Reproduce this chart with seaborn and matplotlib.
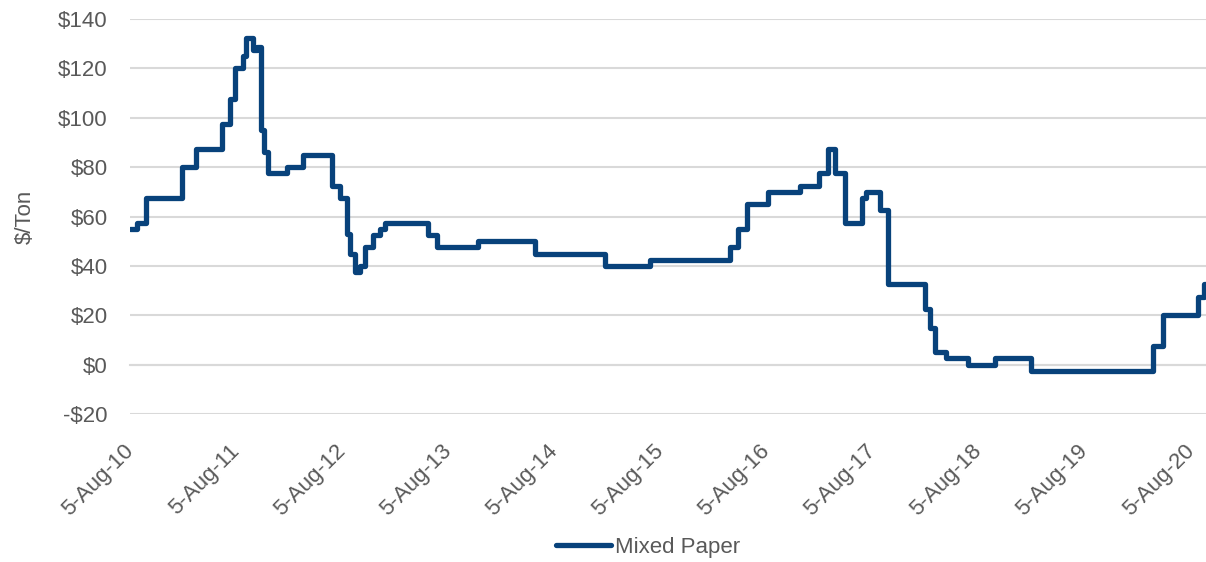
import seaborn as sns
import matplotlib.pyplot as plt
import pandas as pd

# step change dates and the price level ($/ton) from each date on
dates = ['2010-08-05', '2010-08-28', '2010-09-29', '2011-01-30', '2011-03-20',
         '2011-06-17', '2011-07-15', '2011-08-01', '2011-08-30', '2011-09-08',
         '2011-10-03', '2011-10-15', '2011-10-31', '2011-11-10', '2011-11-24',
         '2012-01-26', '2012-03-24', '2012-06-29', '2012-07-28', '2012-08-20',
         '2012-09-01', '2012-09-18', '2012-10-05', '2012-10-22', '2012-11-20',
         '2012-12-13', '2012-12-30', '2013-05-28', '2013-06-26', '2013-11-16',
         '2014-05-30', '2015-01-26', '2015-06-30', '2016-03-31', '2016-04-29',
         '2016-05-31', '2016-08-09', '2016-11-28', '2017-01-31', '2017-03-05',
         '2017-03-28', '2017-05-01', '2017-06-28', '2017-07-12', '2017-08-30',
         '2017-09-27', '2018-02-01', '2018-02-20', '2018-03-07', '2018-04-16',
         '2018-06-30', '2018-09-30', '2019-02-03', '2020-03-28', '2020-05-01',
         '2020-08-30', '2020-09-20', '2020-09-26']
prices = [55, 57.5, 67.5, 80, 87.5,
          97.5, 107.5, 120, 125, 132.5,
          127.5, 128.5, 95, 86, 77.5,
          80, 85, 72.5, 67.5, 53,
          45, 37.5, 40, 47.5, 52.5,
          55, 57.5, 52.5, 47.5, 50,
          45, 40, 42.5, 47.5, 55,
          65, 70, 72.5, 77.5, 87.5,
          77.5, 57.5, 67.5, 70, 62.5,
          32.5, 22.5, 15, 5, 2.5,
          0, 2.5, -2.5, 7.5, 20,
          27.5, 32.5, 32.5]

tick_dates = ['2010-08-05', '2011-08-05', '2012-08-05', '2013-08-05', '2014-08-05',
              '2015-08-05', '2016-08-05', '2017-08-05', '2018-08-05', '2019-08-05',
              '2020-08-05']
tick_labels = ['5-Aug-10', '5-Aug-11', '5-Aug-12', '5-Aug-13', '5-Aug-14',
               '5-Aug-15', '5-Aug-16', '5-Aug-17', '5-Aug-18', '5-Aug-19',
               '5-Aug-20']
y_ticks = [-20, 0, 20, 40, 60, 80, 100, 120, 140]

df = pd.DataFrame({'date': pd.to_datetime(dates), 'price': prices})

sns.set_style('white')
plt.rcParams['font.family'] = ['Liberation Sans', 'DejaVu Sans']
GREY = '#595959'
GRID = '#d9d9d9'

fig = plt.figure(figsize=(12.06, 5.62), dpi=100)
ax = fig.add_axes([0.1078, 0.2633, 0.8922, 0.7029])

sns.lineplot(data=df, x='date', y='price', ax=ax, color='#08427B', linewidth=3.8,
             drawstyle='steps-post', label='Mixed Paper', solid_joinstyle='round',
             solid_capstyle='round')

ax.set_ylim(-20, 140)
ax.set_yticks(y_ticks)
ax.set_yticklabels([f'-${abs(v)}' if v < 0 else f'${v}' for v in y_ticks])
ax.set_xlim(pd.Timestamp('2010-08-05'), pd.Timestamp('2020-09-26'))
ax.set_xticks(pd.to_datetime(tick_dates))
ax.set_xticklabels(tick_labels)

ax.grid(axis='y', color=GRID, linewidth=1.5)
ax.set_axisbelow(True)
for s in ['top', 'right', 'left']:
    ax.spines[s].set_visible(False)
ax.spines['bottom'].set_position(('data', 0))
ax.spines['bottom'].set_color(GRID)
ax.spines['bottom'].set_linewidth(1.5)
ax.spines['bottom'].set_zorder(0.5)

ax.tick_params(axis='x', direction='out', length=5, width=1.5, color=GRID,
               labelsize=16, labelcolor=GREY, pad=55, labelrotation=45)
ax.tick_params(axis='y', length=0, labelsize=16, labelcolor=GREY, pad=16)
plt.setp(ax.get_xticklabels(), ha='right', va='center', rotation_mode='anchor')

ax.set_xlabel('')
ax.set_ylabel('$/Ton', fontsize=16, color=GREY, labelpad=16)

ax.legend(loc='lower center', bbox_to_anchor=(0.537, -0.028), bbox_transform=fig.transFigure,
          frameon=False, fontsize=16, labelcolor=GREY, handlelength=2.5,
          handletextpad=0.15)

fig.savefig('out.png', dpi=100)
